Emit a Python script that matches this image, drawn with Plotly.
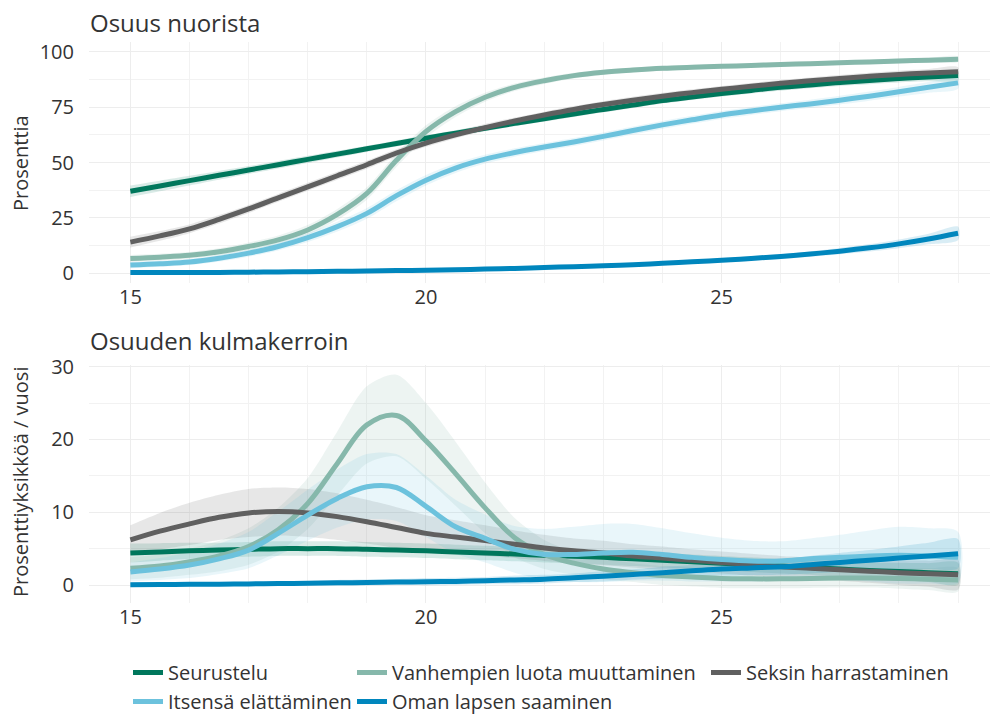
import plotly.graph_objects as go

AGES = [15, 15.5, 16, 16.5, 17, 17.5, 18, 18.5, 19, 19.5, 20, 20.5, 21, 21.5, 22,
        22.5, 23, 23.5, 24, 24.5, 25, 25.5, 26, 26.5, 27, 27.5, 28, 28.5, 29]

NAMES = ["Seurustelu", "Vanhempien luota muuttaminen", "Seksin harrastaminen",
         "Itsensä elättäminen", "Oman lapsen saaminen"]
COLORS = ["#00775c", "#86b8ab", "#606060", "#6cc2dd", "#0086bd"]

# Osuus nuorista (%), one list per activity
SHARE_SEURUSTELU = [37, 39.4, 41.8, 44.2, 46.6, 49, 51.4, 53.8, 56.2, 58.6, 61, 63.3, 65.5,
                    67.7, 69.8, 71.9, 74, 76, 78, 79.6, 81.2, 82.6, 84, 85.1, 86.2, 87.1,
                    88, 88.7, 89.3]
SHARE_VANHEMMAT = [6.6, 7.2, 8, 9.6, 12, 15, 19.5, 26.5, 36, 51, 64, 73, 79.5, 84, 87,
                   89.3, 90.8, 91.8, 92.6, 93.1, 93.5, 93.9, 94.3, 94.7, 95.1, 95.5,
                   95.9, 96.3, 96.7]
SHARE_SEKSI = [14, 16.8, 20, 24.3, 29, 34, 39, 44, 49, 54.3, 58.8, 62.5, 65.8, 68.8,
               71.5, 74, 76.2, 78.2, 80, 81.6, 83.1, 84.5, 85.8, 87, 88, 89, 89.8,
               90.5, 91.1]
SHARE_ELATTAMINEN = [3.6, 4.2, 5, 6.7, 9, 12, 16, 21, 27, 35, 42, 47.5, 51.5, 54.5, 57,
                     59.3, 61.8, 64.5, 67, 69.3, 71.5, 73.3, 75, 76.5, 78.2, 80, 82,
                     84, 86]
SHARE_LAPSI = [0.2, 0.2, 0.3, 0.3, 0.4, 0.5, 0.6, 0.8, 0.9, 1.1, 1.3, 1.5, 1.8, 2.1,
               2.5, 2.9, 3.3, 3.8, 4.4, 5.1, 5.8, 6.6, 7.5, 8.6, 9.9, 11.4, 13.2,
               15.4, 18]

# half-widths of the uncertainty ribbons (percentage points)
SHARE_SE_SEURUSTELU = [2.6, 2.4, 2.2, 2.0, 1.8, 1.7, 1.6, 1.5, 1.4, 1.4, 1.3, 1.3, 1.3,
                       1.3, 1.3, 1.3, 1.3, 1.3, 1.3, 1.3, 1.4, 1.4, 1.5, 1.5, 1.6, 1.7,
                       1.8, 2.0, 2.2]
SHARE_SE_VANHEMMAT = [1.6, 1.5, 1.5, 1.6, 1.8, 2.0, 2.2, 2.5, 2.8, 3.0, 2.8, 2.4, 2.0,
                      1.7, 1.5, 1.3, 1.2, 1.1, 1.1, 1.0, 1.0, 1.0, 1.0, 1.0, 1.0, 1.0,
                      1.1, 1.1, 1.2]
SHARE_SE_SEKSI = [2.4, 2.2, 2.0, 1.9, 1.8, 1.8, 1.8, 1.8, 1.8, 1.7, 1.7, 1.6, 1.6, 1.5,
                  1.5, 1.5, 1.5, 1.5, 1.5, 1.5, 1.5, 1.5, 1.5, 1.5, 1.6, 1.6, 1.7,
                  1.8, 2.0]
SHARE_SE_ELATTAMINEN = [1.4, 1.4, 1.4, 1.5, 1.6, 1.8, 2.0, 2.2, 2.4, 2.5, 2.4, 2.2, 2.0,
                        1.9, 1.8, 1.8, 1.8, 1.8, 1.8, 1.8, 1.8, 1.8, 1.8, 1.9, 2.0, 2.1,
                        2.2, 2.4, 2.6]
SHARE_SE_LAPSI = [0.2, 0.2, 0.2, 0.2, 0.2, 0.3, 0.3, 0.3, 0.3, 0.4, 0.4, 0.4, 0.5, 0.5,
                  0.5, 0.6, 0.6, 0.7, 0.7, 0.8, 0.9, 1.0, 1.1, 1.2, 1.4, 1.7, 2.0,
                  2.4, 3.0]

# Osuuden kulmakerroin (prosenttiyksikköä / vuosi)
SLOPE_SEURUSTELU = [4.4, 4.55, 4.7, 4.8, 4.9, 5.0, 5.0, 5.0, 4.9, 4.8, 4.7, 4.55, 4.4,
                    4.25, 4.1, 3.95, 3.8, 3.6, 3.4, 3.2, 3.0, 2.8, 2.6, 2.4, 2.2, 2.0,
                    1.85, 1.7, 1.55]
SLOPE_VANHEMMAT = [2.3, 2.6, 3.2, 4.0, 5.3, 7.6, 11.2, 16.7, 22, 23.3, 19.8, 15.3, 10.6,
                   6.5, 4.2, 3.0, 2.2, 1.7, 1.3, 1.1, 0.9, 0.85, 0.85, 0.9, 0.95,
                   0.95, 0.9, 0.8, 0.7]
SLOPE_SEKSI = [6.2, 7.4, 8.4, 9.3, 9.9, 10.1, 9.9, 9.4, 8.7, 7.9, 7.1, 6.6, 6.1, 5.6,
               5.1, 4.7, 4.4, 4.0, 3.7, 3.4, 3.1, 2.8, 2.5, 2.3, 2.1, 1.9, 1.7, 1.55,
               1.4]
SLOPE_ELATTAMINEN = [1.8, 2.2, 2.75, 3.6, 4.8, 7.1, 9.6, 11.9, 13.5, 13.4, 10.8, 8.0,
                     6.4, 4.9, 4.2, 4.2, 4.4, 4.5, 4.2, 3.8, 3.5, 3.3, 3.3, 3.6, 3.8,
                     4.0, 4.1, 4.0, 3.8]
SLOPE_LAPSI = [0.05, 0.07, 0.1, 0.12, 0.15, 0.2, 0.25, 0.3, 0.35, 0.4, 0.45, 0.5, 0.6,
               0.7, 0.8, 1.0, 1.2, 1.45, 1.7, 1.95, 2.2, 2.35, 2.5, 2.8, 3.1, 3.4,
               3.7, 4.0, 4.3]

SLOPE_SE_SEURUSTELU = [1.3, 1.2, 1.1, 1.0, 1.0, 1.0, 1.0, 1.0, 1.0, 1.0, 1.0, 1.0, 1.0,
                       1.0, 1.0, 1.0, 1.0, 1.0, 1.0, 1.0, 1.0, 1.0, 1.0, 1.0, 1.1, 1.1,
                       1.2, 1.3, 1.5]
SLOPE_SE_VANHEMMAT = [1.5, 1.6, 1.8, 2.1, 2.5, 3.0, 3.5, 4.4, 5.3, 5.6, 5.2, 4.4, 3.5,
                      2.7, 2.0, 1.6, 1.4, 1.3, 1.3, 1.3, 1.3, 1.3, 1.3, 1.3, 1.3, 1.3,
                      1.4, 1.5, 1.6]
SLOPE_SE_SEKSI = [2.0, 2.5, 2.9, 3.1, 3.3, 3.3, 3.3, 3.2, 3.0, 2.8, 2.5, 2.3, 2.1, 1.9,
                  1.8, 1.7, 1.7, 1.6, 1.6, 1.5, 1.5, 1.5, 1.5, 1.5, 1.5, 1.6, 1.7,
                  1.8, 2.0]
SLOPE_SE_ELATTAMINEN = [1.3, 1.5, 1.8, 2.1, 2.5, 3.0, 3.5, 4.0, 4.5, 4.6, 4.2, 3.7, 3.3,
                        3.2, 3.5, 3.8, 4.0, 3.9, 3.6, 3.3, 3.0, 2.8, 2.7, 2.8, 3.1, 3.5,
                        3.9, 3.8, 3.5]
SLOPE_SE_LAPSI = [0.3, 0.3, 0.3, 0.3, 0.3, 0.3, 0.3, 0.4, 0.4, 0.4, 0.5, 0.5, 0.5, 0.6,
                  0.6, 0.6, 0.7, 0.7, 0.8, 0.8, 0.9, 1.0, 1.1, 1.2, 1.3, 1.4, 1.6,
                  1.8, 2.0]

SHARES = [SHARE_SEURUSTELU, SHARE_VANHEMMAT, SHARE_SEKSI, SHARE_ELATTAMINEN, SHARE_LAPSI]
SHARE_SES = [SHARE_SE_SEURUSTELU, SHARE_SE_VANHEMMAT, SHARE_SE_SEKSI,
             SHARE_SE_ELATTAMINEN, SHARE_SE_LAPSI]
SLOPES = [SLOPE_SEURUSTELU, SLOPE_VANHEMMAT, SLOPE_SEKSI, SLOPE_ELATTAMINEN, SLOPE_LAPSI]
SLOPE_SES = [SLOPE_SE_SEURUSTELU, SLOPE_SE_VANHEMMAT, SLOPE_SE_SEKSI,
             SLOPE_SE_ELATTAMINEN, SLOPE_SE_LAPSI]

# legend columns as in the original (ggplot-style 3 x 2 layout)
LEGEND_OF = ["legend", "legend2", "legend3", "legend", "legend2"]

FONT = "Open Sans"
TEXT_COLOR = "#333333"
W, H = 990, 716
L_MARGIN = 89


def _rgba(hex_color, alpha):
    h = hex_color.lstrip("#")
    r, g, b = int(h[0:2], 16), int(h[2:4], 16), int(h[4:6], 16)
    return f"rgba({r},{g},{b},{alpha})"


def _py(px):
    # pixel row -> paper y (no top/bottom margins)
    return 1 - px / H


def _px(px):
    return (px - L_MARGIN) / (W - L_MARGIN)


fig = go.Figure()

panels = [("x", "y", SHARES, SHARE_SES), ("x2", "y2", SLOPES, SLOPE_SES)]

# ribbons first, then lines on top
for xa, ya, values, ses in panels:
    for i, (vals, se) in enumerate(zip(values, ses)):
        upper = [v + s for v, s in zip(vals, se)]
        lower = [v - s for v, s in zip(vals, se)]
        fig.add_trace(go.Scatter(
            x=AGES + AGES[::-1], y=upper + lower[::-1],
            xaxis=xa, yaxis=ya, fill="toself",
            fillcolor=_rgba(COLORS[i], 0.15),
            line={"width": 0, "color": "rgba(0,0,0,0)", "shape": "spline",
                  "smoothing": 0.8},
            hoverinfo="skip", showlegend=False,
        ))

for p, (xa, ya, values, ses) in enumerate(panels):
    for i, vals in enumerate(values):
        fig.add_trace(go.Scatter(
            x=AGES, y=vals, xaxis=xa, yaxis=ya, mode="lines",
            line={"color": COLORS[i], "width": 5, "shape": "spline"},
            name=NAMES[i], legendgroup=NAMES[i], legend=LEGEND_OF[i],
            showlegend=(p == 0),
        ))

axis_common = dict(
    showgrid=True, gridcolor="#ededed", gridwidth=1,
    zeroline=False, showline=False, ticks="",
    tickfont={"family": FONT, "size": 20, "color": TEXT_COLOR},
    automargin=False,
)
x_common = dict(axis_common, range=[14.3, 29.54], tickvals=[15, 20, 25],
                minor={"dtick": 1, "tick0": 15, "showgrid": True,
                       "gridcolor": "#f2f2f2"})

legend_common = dict(
    orientation="v", yanchor="top", xanchor="left", y=_py(653),
    font={"family": FONT, "size": 20, "color": TEXT_COLOR},
    bgcolor="rgba(0,0,0,0)", tracegroupgap=0, itemwidth=30,
)

fig.update_layout(
    width=W, height=H,
    margin={"l": L_MARGIN, "r": 0, "t": 0, "b": 0, "autoexpand": False},
    plot_bgcolor="white", paper_bgcolor="white",
    font={"family": FONT, "color": TEXT_COLOR},
    xaxis=dict(x_common, anchor="y"),
    xaxis2=dict(x_common, anchor="y2"),
    yaxis=dict(axis_common, domain=[_py(283), _py(42)], range=[-4.5, 104.5],
               tickvals=[0, 25, 50, 75, 100], ticklabelstandoff=14,
               minor={"dtick": 12.5, "tick0": 0, "showgrid": True,
                      "gridcolor": "#f2f2f2"}),
    yaxis2=dict(axis_common, domain=[_py(603), _py(365)], range=[-2.47, 30.23],
                tickvals=[0, 10, 20, 30], ticklabelstandoff=14,
                minor={"dtick": 5, "tick0": 0, "showgrid": True,
                       "gridcolor": "#f2f2f2"}),
    legend=dict(legend_common, x=_px(128)),
    legend2=dict(legend_common, x=_px(352)),
    legend3=dict(legend_common, x=_px(706)),
    showlegend=True,
    annotations=[
        dict(text="Osuus nuorista", x=_px(88), y=_py(22), xref="paper", yref="paper",
             xanchor="left", yanchor="middle", showarrow=False,
             font={"family": FONT, "size": 24, "color": TEXT_COLOR}),
        dict(text="Osuuden kulmakerroin", x=_px(88), y=_py(340), xref="paper",
             yref="paper", xanchor="left", yanchor="middle", showarrow=False,
             font={"family": FONT, "size": 24, "color": TEXT_COLOR}),
        dict(text="Prosenttia", x=_px(20), y=_py(163), xref="paper", yref="paper",
             xanchor="center", yanchor="middle", textangle=-90, showarrow=False,
             font={"family": FONT, "size": 20, "color": TEXT_COLOR}),
        dict(text="Prosenttiyksikköä / vuosi", x=_px(20), y=_py(482), xref="paper",
             yref="paper", xanchor="center", yanchor="middle", textangle=-90,
             showarrow=False,
             font={"family": FONT, "size": 20, "color": TEXT_COLOR}),
    ],
)

# the page body has a default 8px margin; drop it so the figure fills the window
fig.write_html("out.html", config={"displayModeBar": False},
               post_script="document.body.style.margin = '0';")
